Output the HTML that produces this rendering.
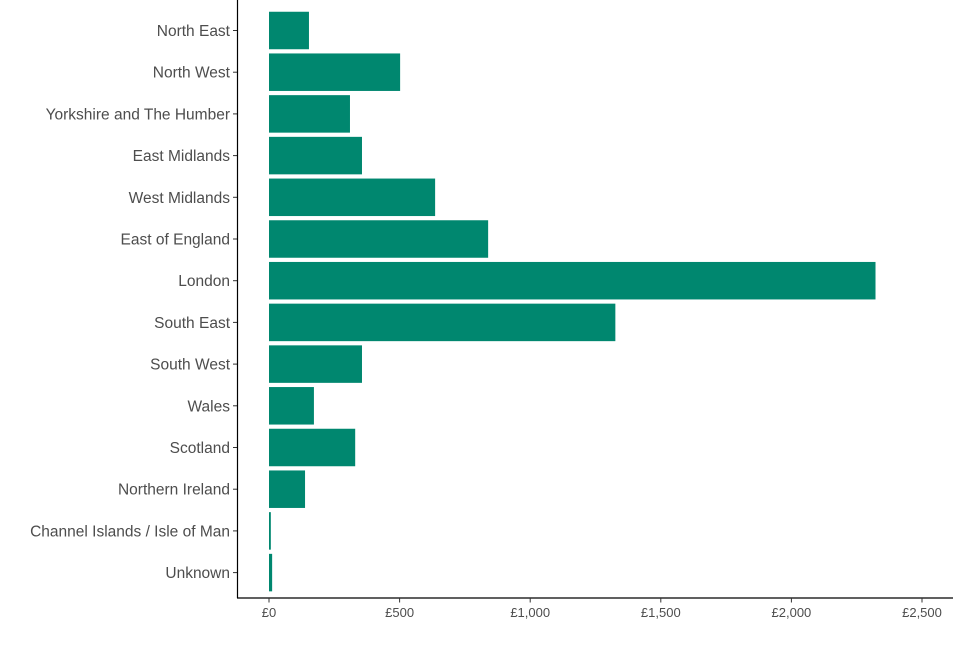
<!DOCTYPE html>
<html><head><meta charset="utf-8"><style>
body{margin:0;background:#fff}
text{font-family:"Liberation Sans",sans-serif}
</style></head><body>
<svg id="chart" width="960" height="640" xmlns="http://www.w3.org/2000/svg"></svg>
<script>
const categories=["North East","North West","Yorkshire and The Humber","East Midlands","West Midlands","East of England","London","South East","South West","Wales","Scotland","Northern Ireland","Channel Islands / Isle of Man","Unknown"];
const values=[153,502,310,356,636,839,2322,1326,356,172,330,138,7,12];
const tickValues=[0,500,1000,1500,2000,2500];
const tickLabels=["£0","£500","£1,000","£1,500","£2,000","£2,500"];
const NS="http://www.w3.org/2000/svg";
const svg=document.getElementById('chart');
const x0=269,xs=130.6/500;
const xScale=v=>x0+v*xs;
const step=41.7,c0=30.5,bh=37.5;
const yScale=i=>c0+i*step;
function mk(t,a){const e=document.createElementNS(NS,t);for(const k in a)e.setAttribute(k,a[k]);svg.appendChild(e);return e;}
categories.forEach((c,i)=>{
  const r=mk('rect',{x:xScale(0),y:yScale(i)-bh/2,width:Math.max(0,xScale(values[i])-xScale(0)),height:bh,fill:'#00876f'});
  
  
  const tk=mk('line',{x1:233,x2:237.5,y1:yScale(i),y2:yScale(i),stroke:'#333','stroke-width':1});
  
  
  const t=mk('text',{x:230,y:yScale(i)+5.5,'text-anchor':'end','font-size':15.5,fill:'#4d4d4d'});
  t.textContent=c;
  
  
});
const ya=mk('line',{x1:237.5,x2:237.5,y1:0,y2:598,stroke:'#000','stroke-width':1.2});


const xa=mk('line',{x1:237,x2:953,y1:598,y2:598,stroke:'#000','stroke-width':1.2});


tickValues.forEach((v,i)=>{
  const tk=mk('line',{x1:xScale(v),x2:xScale(v),y1:598,y2:602.5,stroke:'#333','stroke-width':1});
  
  
  const t=mk('text',{x:xScale(v),y:617,'text-anchor':'middle','font-size':13,fill:'#4d4d4d'});
  t.textContent=tickLabels[i];
  
  
});
</script>
</body></html>
